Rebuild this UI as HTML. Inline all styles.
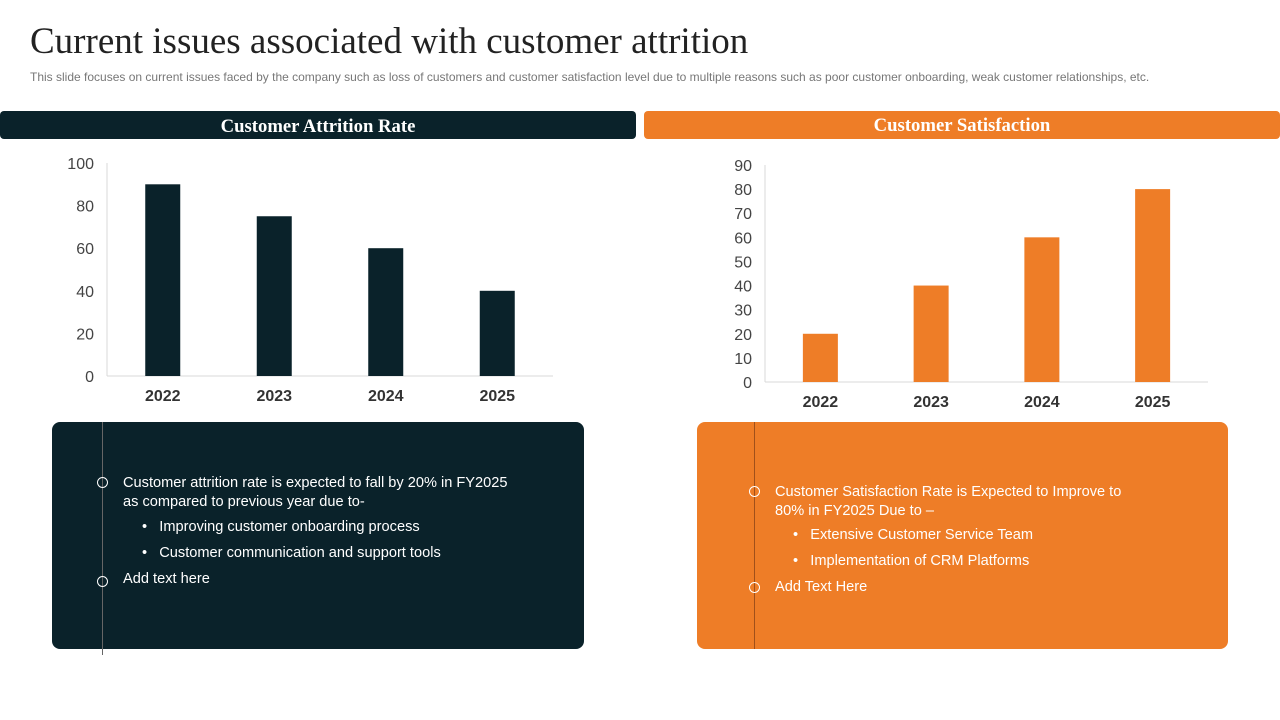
<!DOCTYPE html>
<html><head><meta charset="utf-8"><style>
body{margin:0;width:1280px;height:720px;background:#fff;position:relative;overflow:hidden;font-family:"Liberation Sans",sans-serif}
.abs{position:absolute}
h1{position:absolute;left:30px;top:20px;margin:0;font:37px "Liberation Serif",serif;color:#222}
.sub{left:30px;top:70px;font-size:12px;color:#777}
.hdr{height:28px;border-radius:4px;color:#fff;font:bold 18.7px "Liberation Serif",serif;text-align:center;line-height:31px}
.box{border-radius:8px;color:#fff;font-size:14.6px}
.vl{position:absolute;top:0;bottom:-6px;width:1px;background:#666}
.c{position:absolute;width:9px;height:9px;border:1px solid #fff;border-radius:50%}
.t{position:absolute;line-height:19px}
svg text{font-family:"Liberation Sans",sans-serif}
</style></head><body>
<h1>Current issues associated with customer attrition</h1>
<div class="abs sub">This slide focuses on current issues faced by the company such as loss of customers and customer satisfaction level due to multiple reasons such as poor customer onboarding, weak customer relationships, etc.</div>
<div class="abs hdr" style="left:0;top:111px;width:636px;background:#0a222a">Customer Attrition Rate</div>
<div class="abs hdr" style="left:644px;top:111px;width:636px;background:#ee7d27;line-height:29px">Customer Satisfaction</div>
<svg class="abs" style="left:0;top:0" width="1280" height="420" id="charts"></svg>
<div class="abs box" style="left:52px;top:422px;width:532px;height:227px;background:#0a222a">
<div class="vl" style="left:50px"></div>
<div class="c" style="left:45px;top:55px"></div>
<div class="t" style="left:71px;top:52px;width:400px">Customer attrition rate is expected to fall by 20% in FY2025 as compared to previous year due to-</div>
<div class="t" style="left:90px;top:96px">•&nbsp;&nbsp;&nbsp;Improving customer onboarding process</div>
<div class="t" style="left:90px;top:122px">•&nbsp;&nbsp;&nbsp;Customer communication and support tools</div>
<div class="c" style="left:45px;top:154px"></div>
<div class="t" style="left:71px;top:148px">Add text here</div>
</div>
<div class="abs box" style="left:697px;top:422px;width:531px;height:227px;background:#ee7d27">
<div class="vl" style="left:57px;bottom:0;background:#a0501a"></div>
<div class="c" style="left:52px;top:64px"></div>
<div class="t" style="left:78px;top:61px;width:370px">Customer Satisfaction Rate is Expected to Improve to 80% in FY2025 Due to –</div>
<div class="t" style="left:96px;top:104px">•&nbsp;&nbsp;&nbsp;Extensive Customer Service Team</div>
<div class="t" style="left:96px;top:130px">•&nbsp;&nbsp;&nbsp;Implementation of CRM Platforms</div>
<div class="c" style="left:52px;top:160px"></div>
<div class="t" style="left:78px;top:156px">Add Text Here</div>
</div>
<script>
const categories=["2022","2023","2024","2025"];
const attritionValues=[90,75,60,40];
const attritionTicks=[0,20,40,60,80,100];
const satisfactionValues=[20,40,60,80];
const satisfactionTicks=[0,10,20,30,40,50,60,70,80,90];
const svg=document.getElementById('charts');
const NS='http://www.w3.org/2000/svg';
function mk(tag,attrs,txt){const e=document.createElementNS(NS,tag);for(const k in attrs)e.setAttribute(k,attrs[k]);if(txt!==undefined)e.textContent=txt;svg.appendChild(e);return e;}
function chart(o,vals,ticks,max,color,prefix){
  const y=v=>o.y0-(v/max)*(o.y0-o.y1);
  const bw=(o.x1-o.x0)/categories.length;
  const x=i=>o.x0+bw*(i+0.5);
  mk('line',{x1:o.x0,x2:o.x0,y1:o.y1,y2:o.y0,stroke:'#d9d9d9'});
  mk('line',{x1:o.x0,x2:o.x1,y1:o.y0,y2:o.y0,stroke:'#d9d9d9'});
  ticks.forEach(t=>{const e=mk('text',{x:o.x0-13,y:y(t)+6,'text-anchor':'end','font-size':16,fill:'#444'},t);
  
  });
  vals.forEach((v,i)=>{const r=mk('rect',{x:x(i)-17.5,y:y(v),width:35,height:o.y0-y(v),fill:color});
  
  
  const l=mk('text',{x:x(i),y:o.y0+25,'text-anchor':'middle','font-size':16,'font-weight':'bold',fill:'#333'},categories[i]);
  
  });
}
chart({x0:107,x1:553,y0:376,y1:163},attritionValues,attritionTicks,100,'#0a222a','attrition');
chart({x0:765,x1:1208,y0:382,y1:165},satisfactionValues,satisfactionTicks,90,'#ee7d27','satisfaction');
</script>
</body></html>
